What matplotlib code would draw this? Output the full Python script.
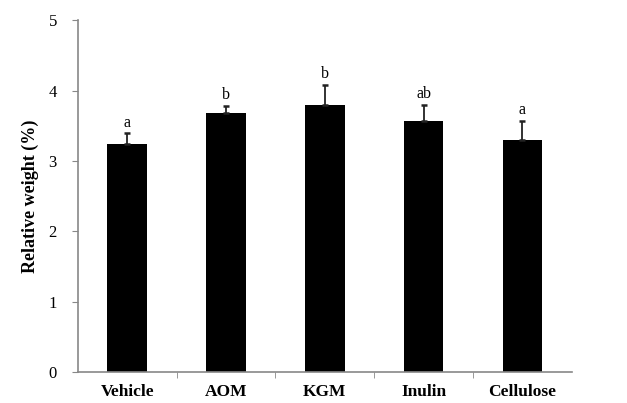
import matplotlib.pyplot as plt
import numpy as np

categories = ['Vehicle', 'AOM', 'KGM', 'Inulin', 'Cellulose']
means = [3.24, 3.68, 3.80, 3.56, 3.30]
errors = [0.15, 0.10, 0.28, 0.24, 0.27]
letters = ['a', 'b', 'b', 'ab', 'a']

plt.rcParams['font.family'] = 'Liberation Serif'

fig = plt.figure(figsize=(6.27, 4.03), dpi=100)
ax = fig.add_axes([0.124, 0.077, 0.788, 0.873])

x = np.arange(len(categories))
ax.bar(x, means, width=0.4, color='black')
ax.errorbar(x, means, yerr=[np.zeros(len(errors)), errors], fmt='none',
            ecolor='#222222', elinewidth=1.3, capsize=2.5, capthick=1.8)

# significance letters above each error bar
for xi, m, e, t in zip(x, means, errors, letters):
    ax.text(xi, m + e + 0.04, t, ha='center', va='bottom', fontsize=11.5)

ax.set_xlim(-0.5, len(categories) - 0.5)
ax.set_ylim(0, 5)
ax.set_yticks(range(6))
ax.set_xticks(x)
ax.set_xticklabels(categories, fontsize=12.5, fontweight='bold')
ax.set_xticks(np.arange(0.5, len(categories) - 0.5), minor=True)
ax.tick_params(axis='x', which='major', length=0, pad=9)
ax.tick_params(axis='x', which='minor', length=4, direction='out', color='#888888')
ax.tick_params(axis='y', length=4, direction='out', color='#888888', labelsize=12, pad=11)
ax.set_ylabel('Relative weight (%)', fontsize=13, fontweight='bold', labelpad=7)

for side in ['top', 'right']:
    ax.spines[side].set_visible(False)
for side in ['left', 'bottom']:
    ax.spines[side].set_color('#888888')
    ax.spines[side].set_linewidth(1.2)

fig.savefig('out.png', dpi=100)
plt.close(fig)
